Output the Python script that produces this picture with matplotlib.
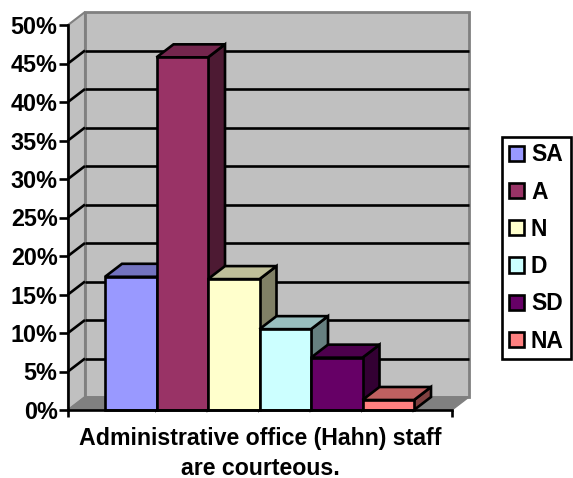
import matplotlib
matplotlib.use('Agg')
import matplotlib.pyplot as plt
from matplotlib.patches import Polygon, Patch
from matplotlib.colors import to_rgb

plt.rcParams['font.family'] = ['Liberation Sans', 'DejaVu Sans']
plt.rcParams['font.weight'] = 'bold'

# data
categories = ['SA', 'A', 'N', 'D', 'SD', 'NA']
values = [17.3, 45.8, 17.0, 10.5, 6.8, 1.3]
colors = ['#9999FF', '#993366', '#FFFFCC', '#CCFFFF', '#660066', '#FF8080']
y_ticks = [0, 5, 10, 15, 20, 25, 30, 35, 40, 45, 50]
y_labels = ['0%', '5%', '10%', '15%', '20%', '25%', '30%', '35%', '40%', '45%', '50%']
x_label = 'Administrative office (Hahn) staff\nare courteous.'

W, H = 573, 478
LW = 1.9
fig = plt.figure(figsize=(W / 100, H / 100), dpi=100)

# front plane of the fake 3d box, in pixels
left, right, top, bottom = 68, 452, 25, 410
ax = fig.add_axes([left / W, 1 - bottom / H, (right - left) / W, (bottom - top) / H])

bar_px = 51.5
x_min = (left - 105) / bar_px
x_max = (right - 105) / bar_px
ax.set_xlim(x_min, x_max)
ax.set_ylim(0, 50)

# depth of the box in data units
dx = 17 / bar_px
dy = 13 / (385 / 50)


def shade(c, f):
    return tuple(v * f for v in to_rgb(c))


def face(pts, fc, ec='black', lw=LW, z=1):
    ax.add_patch(Polygon(pts, closed=True, fc=fc, ec=ec, lw=lw, zorder=z,
                         clip_on=False, joinstyle='miter'))


# walls and floor
face([(x_min + dx, dy), (x_max + dx, dy), (x_max + dx, 50 + dy), (x_min + dx, 50 + dy)],
     '#C0C0C0', '#808080', 2.0)
face([(x_min, 0), (x_min + dx, dy), (x_min + dx, 50 + dy), (x_min, 50)],
     '#C0C0C0', '#808080', 1.5)
face([(x_min, 0), (x_max, 0), (x_max + dx, dy), (x_min + dx, dy)],
     '#808080', '#808080', 1.0)

# grid on back wall and side wall
for t in y_ticks[1:-1]:
    ax.plot([x_min + dx, x_max + dx], [t + dy, t + dy], color='black', lw=LW, zorder=2,
            clip_on=False, solid_capstyle='butt')
    ax.plot([x_min, x_min + dx], [t, t + dy], color='black', lw=LW, zorder=2,
            clip_on=False, solid_capstyle='butt')

# bars, left to right so that each one overlaps the side of the previous
for i, (v, c) in enumerate(zip(values, colors)):
    x0, x1 = i, i + 1
    z = 3 + i
    face([(x1, 0), (x1 + dx, dy), (x1 + dx, v + dy), (x1, v)], shade(c, 0.5), z=z)
    face([(x0, v), (x1, v), (x1 + dx, v + dy), (x0 + dx, v + dy)], shade(c, 0.75), z=z)
    ax.bar(x0, v, width=1, align='edge', color=c, edgecolor='black', linewidth=LW,
           zorder=z, clip_on=False)

for s in ['top', 'right']:
    ax.spines[s].set_visible(False)
for s in ['left', 'bottom']:
    ax.spines[s].set_linewidth(LW)
    ax.spines[s].set_zorder(20)

ax.set_yticks(y_ticks)
ax.set_yticklabels(y_labels, fontsize=16.8, fontweight='bold')
ax.tick_params(axis='y', length=6.5, width=LW, pad=1)
ax.set_xticks([x_min, x_max])
ax.set_xticklabels(['', ''])
ax.tick_params(axis='x', length=5, width=LW)
ax.set_xlabel(x_label, fontsize=16.7, fontweight='bold', labelpad=3.5, linespacing=1.38)
ax.patch.set_visible(False)

handles = [Patch(fc=c, ec='black', lw=LW, label=n) for n, c in zip(categories, colors)]
leg = fig.legend(handles=handles, loc='center', bbox_to_anchor=(536.5 / W, 1 - 248 / H),
                 fontsize=16.5, frameon=True, fancybox=False, edgecolor='black', framealpha=1,
                 handlelength=0.65, handleheight=0.65, handletextpad=0.3,
                 labelspacing=0.62, borderpad=0.3, borderaxespad=0)
leg.get_frame().set_linewidth(LW)
for t in leg.get_texts():
    t.set_fontweight('bold')

fig.savefig('out.png', dpi=100)
